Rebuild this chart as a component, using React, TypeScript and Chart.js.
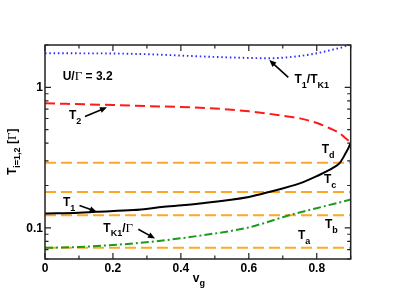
import React, { useEffect, useRef } from "react";
import { Chart, registerables } from "chart.js";

Chart.register(...registerables);

// ---- data ----
const X_T1 = [0, 0.1, 0.15, 0.26, 0.35, 0.456, 0.6, 0.66, 0.75, 0.8, 0.85, 0.868, 0.885, 0.895, 0.9];
const T1 = [0.1266, 0.128, 0.13, 0.1337, 0.141, 0.149, 0.166, 0.18, 0.207, 0.233, 0.269, 0.29, 0.339, 0.377, 0.403];

const X_T2 = [0, 0.2, 0.3, 0.456, 0.6, 0.72, 0.75, 0.779, 0.809, 0.838, 0.868, 0.882, 0.897, 0.9];
const T2 = [0.769, 0.748, 0.735, 0.716, 0.675, 0.617, 0.601, 0.578, 0.548, 0.511, 0.47, 0.44, 0.41, 0.403];

const X_RATIO = [0, 0.1, 0.2, 0.3, 0.456, 0.55, 0.66, 0.75, 0.8, 0.85, 0.88, 0.9];
const RATIO = [1.747, 1.745, 1.74, 1.72, 1.66, 1.63, 1.61, 1.67, 1.747, 1.86, 1.946, 2.05];

const X_TK1 = [0, 0.1, 0.2, 0.26, 0.328, 0.456, 0.6, 0.7, 0.735, 0.8, 0.9];
const TK1 = [0.072, 0.073, 0.0755, 0.0774, 0.0803, 0.088, 0.1007, 0.119, 0.126, 0.138, 0.159];

const REF_NAMES = ["Ta", "Tb", "Tc", "Td"];
const REF_VALUES = [0.072, 0.1231, 0.1796, 0.2904];

const X_TICKS = [0, 0.1, 0.2, 0.3, 0.4, 0.5, 0.6, 0.7, 0.8, 0.9];
const X_LABELED = ["0", "", "0.2", "", "0.4", "", "0.6", "", "0.8", ""];
const Y_TICKS = [0.06, 0.07, 0.08, 0.09, 0.1, 0.2, 0.3, 0.4, 0.5, 0.6, 0.7, 0.8, 0.9, 1, 2];
const Y_MAJOR = [0.1, 1];
const Y_LABELS = ["0.1", "1"];

const pts = (xs: number[], ys: number[]) => xs.map((x, i) => ({ x, y: ys[i] }));

const SANS = '"Liberation Sans", Arial, Helvetica, sans-serif';
const SERIF = '"Liberation Serif", "Times New Roman", serif';

type Part = { t: string; k: "b" | "s" | "g" };

function drawRich(ctx: CanvasRenderingContext2D, x: number, y: number, parts: Part[]) {
  let cx = x;
  ctx.textAlign = "left";
  ctx.textBaseline = "alphabetic";
  for (const p of parts) {
    let dy = 0;
    if (p.k === "b") ctx.font = `bold 12px ${SANS}`;
    else if (p.k === "s") {
      ctx.font = `bold 9px ${SANS}`;
      dy = 4.5;
    } else ctx.font = `13px ${SERIF}`;
    ctx.fillText(p.t, cx, y + dy);
    cx += ctx.measureText(p.t).width;
  }
}

function drawArrow(ctx: CanvasRenderingContext2D, x1: number, y1: number, x2: number, y2: number) {
  const a = Math.atan2(y2 - y1, x2 - x1);
  const L = 7, W = 3;
  ctx.beginPath();
  ctx.moveTo(x1, y1);
  ctx.lineTo(x2 - Math.cos(a) * L * 0.7, y2 - Math.sin(a) * L * 0.7);
  ctx.lineWidth = 1.6;
  ctx.strokeStyle = "#000";
  ctx.setLineDash([]);
  ctx.stroke();
  ctx.beginPath();
  ctx.moveTo(x2, y2);
  ctx.lineTo(x2 - Math.cos(a) * L - Math.sin(a) * W, y2 - Math.sin(a) * L + Math.cos(a) * W);
  ctx.lineTo(x2 - Math.cos(a) * L + Math.sin(a) * W, y2 - Math.sin(a) * L - Math.cos(a) * W);
  ctx.closePath();
  ctx.fillStyle = "#000";
  ctx.fill();
}

const decor = {
  id: "decor",
  afterDraw(chart: any) {
    const ctx: CanvasRenderingContext2D = chart.ctx;
    const { left, right, top, bottom } = chart.chartArea;
    const xs = chart.scales.x;
    const ys = chart.scales.y;
    ctx.save();
    ctx.setLineDash([]);
    // frame
    ctx.strokeStyle = "#222";
    ctx.lineWidth = 1.5;
    ctx.strokeRect(left, top, right - left, bottom - top);
    // ticks
    ctx.lineWidth = 1.2;
    X_TICKS.forEach((v, i) => {
      const px = xs.getPixelForValue(v);
      const len = X_LABELED[i] ? 6 : 3.5;
      ctx.beginPath();
      ctx.moveTo(px, bottom);
      ctx.lineTo(px, bottom - len);
      ctx.moveTo(px, top);
      ctx.lineTo(px, top + len);
      ctx.stroke();
    });
    Y_TICKS.forEach((v) => {
      const py = ys.getPixelForValue(v);
      const len = Y_MAJOR.includes(v) ? 6 : 3.5;
      ctx.beginPath();
      ctx.moveTo(left, py);
      ctx.lineTo(left + len, py);
      ctx.moveTo(right, py);
      ctx.lineTo(right - len, py);
      ctx.stroke();
    });
    // tick labels
    ctx.fillStyle = "#000";
    ctx.font = `bold 12px ${SANS}`;
    ctx.textAlign = "center";
    ctx.textBaseline = "alphabetic";
    X_TICKS.forEach((v, i) => {
      if (X_LABELED[i]) ctx.fillText(X_LABELED[i], xs.getPixelForValue(v), bottom + 12.6);
    });
    ctx.textAlign = "right";
    ctx.textBaseline = "middle";
    Y_MAJOR.forEach((v, i) => {
      ctx.fillText(Y_LABELS[i], left - 2, ys.getPixelForValue(v) + 0.5);
    });
    // axis titles
    drawRich(ctx, (left + right) / 2 - 5, bottom + 22.7, [
      { t: "v", k: "b" },
      { t: "g", k: "s" },
    ]);
    ctx.save();
    ctx.translate(left - 29.5, (top + bottom) / 2 + 23);
    ctx.rotate(-Math.PI / 2);
    drawRich(ctx, 0, 0, [
      { t: "T", k: "b" },
      { t: "i=1,2", k: "s" },
      { t: " [", k: "b" },
      { t: "Γ", k: "g" },
      { t: "]", k: "b" },
    ]);
    ctx.restore();

    // annotations
    drawRich(ctx, left + 17.7, top + 35, [
      { t: "U/", k: "b" },
      { t: "Γ", k: "g" },
      { t: " = 3.2", k: "b" },
    ]);
    drawRich(ctx, 69, 119, [{ t: "T", k: "b" }, { t: "2", k: "s" }]);
    drawArrow(ctx, 85, 116.5, 107, 107.3);
    drawRich(ctx, 294.5, 83.3, [
      { t: "T", k: "b" },
      { t: "1", k: "s" },
      { t: "/T", k: "b" },
      { t: "K1", k: "s" },
    ]);
    drawArrow(ctx, 288.3, 77.3, 269.3, 60);
    drawRich(ctx, 63, 206, [{ t: "T", k: "b" }, { t: "1", k: "s" }]);
    drawArrow(ctx, 79.5, 205.5, 96.7, 211.7);
    drawRich(ctx, 103.3, 231.7, [
      { t: "T", k: "b" },
      { t: "K1", k: "s" },
      { t: "/", k: "b" },
      { t: "Γ", k: "g" },
    ]);
    drawArrow(ctx, 138.3, 229.3, 155, 238.5);
    const refPos = [
      [298, 239.3],
      [325, 228.3],
      [324, 183.3],
      [321.7, 153.3],
    ];
    REF_NAMES.forEach((n, i) => {
      drawRich(ctx, refPos[i][0], refPos[i][1], [
        { t: n[0], k: "b" },
        { t: n.slice(1), k: "s" },
      ]);
    });
    ctx.restore();
  },
};

export default function App() {
  const ref = useRef<HTMLCanvasElement | null>(null);
  useEffect(() => {
    if (!ref.current) return;
    const line = (data: any, color: string, dash: number[], width = 2) => ({
      data,
      borderColor: color,
      borderWidth: width,
      borderDash: dash,
      pointRadius: 0,
      fill: false,
      cubicInterpolationMode: "monotone",
    });
    const chart = new Chart(ref.current, {
      type: "line",
      data: {
        datasets: [
          line(pts(X_RATIO, RATIO), "#2a2aff", [1.5, 2.8], 1.9),
          line(pts(X_T2, T2), "#ff1a1a", [10, 5]),
          line(pts(X_T1, T1), "#000000", []),
          line(pts(X_TK1, TK1), "#1d9a1d", [8, 3, 2, 3]),
          ...REF_VALUES.map((v) =>
            line([{ x: 0, y: v }, { x: 0.9, y: v }], "#ffa726", [11, 5])
          ),
        ] as any,
      },
      options: {
        animation: false,
        responsive: false,
        events: [],
        layout: { padding: { left: 45, top: 45, right: 44.3, bottom: 46 } },
        plugins: { legend: { display: false }, tooltip: { enabled: false } },
        scales: {
          x: { type: "linear", min: 0, max: 0.9, display: false },
          y: { type: "logarithmic", min: 0.06, max: 2, display: false },
        },
      },
      plugins: [decor],
    });
    return () => chart.destroy();
  }, []);
  return (
    <div style={{ position: "absolute", left: 0, top: 0, width: 395, height: 305, background: "#fff" }}>
      <canvas ref={ref} width={395} height={305} style={{ width: 395, height: 305 }} />
    </div>
  );
}
